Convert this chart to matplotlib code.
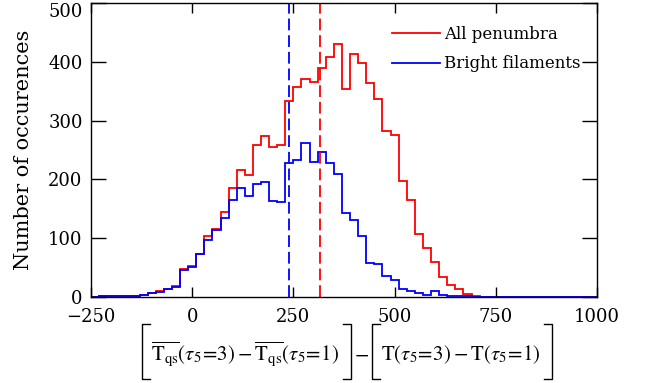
import numpy as np
import matplotlib
matplotlib.use('Agg')
import matplotlib.pyplot as plt
from matplotlib.lines import Line2D

# histogram bins: 20-wide, lower edges from -250 to 990
bin_edges = np.arange(-250, 1011, 20)

all_penumbra = [0, 1, 1, 2, 1, 1, 4, 7, 10, 14,
                19, 47, 52, 73, 104, 115, 145, 185, 216, 208,
                259, 274, 255, 259, 333, 357, 371, 366, 389, 409,
                431, 354, 414, 398, 364, 337, 282, 275, 197, 165,
                107, 84, 59, 34, 20, 13, 5, 1, 0, 0,
                0, 0, 0, 0, 0, 0, 0, 0, 0, 0,
                0, 0, 0]
bright_filaments = [0, 1, 1, 1, 1, 1, 3, 6, 9, 13,
                    17, 46, 51, 73, 97, 114, 134, 165, 185, 171,
                    192, 195, 164, 161, 228, 233, 262, 230, 246, 228,
                    210, 143, 131, 103, 57, 56, 36, 29, 13, 10,
                    7, 4, 10, 3, 2, 1, 1, 0, 0, 0,
                    0, 0, 0, 0, 0, 0, 0, 0, 0, 0,
                    0, 0, 0]
mean_all = 316
mean_bright = 240

series_labels = ['All penumbra', 'Bright filaments']
series_colors = ['#ff0000', '#0000ff']

plt.rcParams['font.family'] = 'DejaVu Serif'
plt.rcParams['mathtext.fontset'] = 'stix'
plt.rcParams['lines.scale_dashes'] = False

W, H = 647, 383
fig = plt.figure(figsize=(W / 100, H / 100), dpi=100)
ax = fig.add_axes([91 / W, 1 - 297 / H, 506 / W, 294 / H])

ax.stairs(all_penumbra, bin_edges, color=series_colors[0], lw=1.3)
ax.stairs(bright_filaments, bin_edges, color=series_colors[1], lw=1.3)
ax.axvline(mean_all, color=series_colors[0], lw=1.3, dashes=(8.5, 3.5))
ax.axvline(mean_bright, color=series_colors[1], lw=1.3, dashes=(8.5, 3.5))

ax.set_xlim(-250, 1000)
ax.set_ylim(0, 500)
ax.set_xticks([-250, 0, 250, 500, 750, 1000])
ax.set_yticks(range(0, 501, 100))
ax.tick_params(direction='in', top=True, right=True, labelsize=13, width=1)
ax.tick_params(axis='y', length=11, pad=6)
ax.tick_params(axis='x', length=7, pad=8)
for s in ax.spines.values():
    s.set_linewidth(1)
ax.set_ylabel('Number of occurences', fontsize=15, labelpad=11)
# top label is pushed down inside the figure, as in the original
ax.get_yticklabels()[-1].set_verticalalignment('top')

handles = [Line2D([], [], color=c, lw=1.3) for c in series_colors]
ax.legend(handles, series_labels, loc='upper right', bbox_to_anchor=(0.968, 0.922),
          frameon=False, fontsize=12, borderpad=0, borderaxespad=0,
          handlelength=2.9, handletextpad=0.25, labelspacing=0.75)

# x label: two bracketed differences, brackets drawn as thin lines
expr_qs = r'$\overline{\mathrm{T}_{\mathrm{qs}}}(\tau_5\!=\!3)-\overline{\mathrm{T}_{\mathrm{qs}}}(\tau_5\!=\!1)$'
expr_pix = r'$\mathrm{T}(\tau_5\!=\!3)-\mathrm{T}(\tau_5\!=\!1)$'
base_y = 1 - 360 / H
t1 = fig.text(0, base_y, expr_qs, fontsize=15, va='baseline')
tm = fig.text(0, base_y, r'$-$', fontsize=15, va='baseline')
t2 = fig.text(0, base_y, expr_pix, fontsize=15, va='baseline')
fig.canvas.draw()
r = fig.canvas.get_renderer()
w1 = t1.get_window_extent(r).width
wm = tm.get_window_extent(r).width
w2 = t2.get_window_extent(r).width

pad_l, pad_r, gap, serif = 9, 12, 3, 8
total = pad_l + w1 + pad_r + gap + wm + gap + pad_l + w2 + pad_r
x0 = 347 - total / 2


def bracket(xv, facing):
    xs = np.array([xv + facing * serif, xv, xv, xv + facing * serif])
    ys = np.array([324, 324, 379, 379])
    fig.add_artist(Line2D(xs / W, 1 - ys / H, color='black', lw=1))


x = x0
bracket(x, 1)
x += pad_l
t1.set_x(x / W)
x += w1 + pad_r
bracket(x, -1)
x += gap
tm.set_x(x / W)
x += wm + gap
bracket(x, 1)
x += pad_l
t2.set_x(x / W)
x += w2 + pad_r
bracket(x, -1)

fig.savefig('out.png', dpi=100)
